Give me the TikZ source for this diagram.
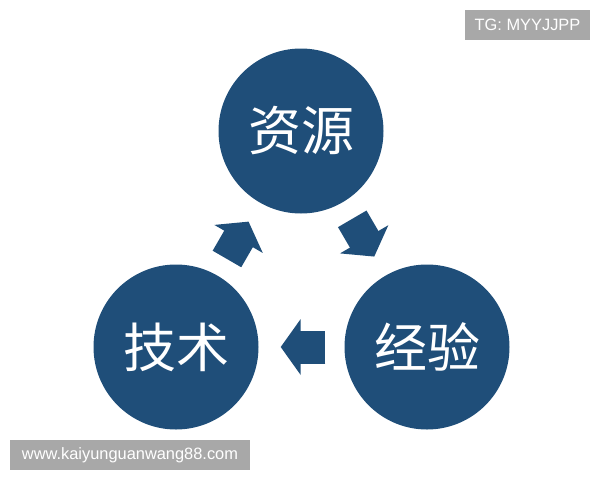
\documentclass[tikz,border=0pt]{standalone}
\usepackage{fontspec}
\setmainfont{Liberation Sans}
\newfontfamily\cjk{Noto Sans CJK SC}
\usetikzlibrary{arrows.meta}
\definecolor{navy}{RGB}{31,78,121}
\definecolor{mark}{RGB}{168,168,168}

\begin{document}
\begin{tikzpicture}[x=1pt,y=-1pt]
\tikzstyle{ball} = [circle,fill=navy,inner sep=0pt,minimum size=165pt,text=white,font=\cjk\fontsize{53}{53}\selectfont]
\tikzstyle{flow} = [draw=navy,line width=33pt,shorten <=19pt,shorten >=22pt,-{Triangle[length=20pt,width=55pt]}]
\tikzstyle{tag} = [fill=mark,text=white,inner sep=0pt,minimum height=30pt,font=\fontsize{16.4}{16.4}\selectfont]
\useasboundingbox (0,0) rectangle (600,480);
\node[ball] (ziyuan) at (301,131) {资源} ;
\node[ball] (jishu) at (176,347) {技术} ;
\node[ball] (jingyan) at (427,347) {经验} ;
\draw [flow] (ziyuan) -- (jingyan) ;
\draw [flow] (jingyan) -- (jishu) ;
\draw [flow] (jishu) -- (ziyuan) ;
\node[tag,minimum width=125pt] (tg) at (527.5,25) {TG: MYYJJPP} ;
\node[tag,minimum width=240pt] (site) at (130,455) {www.kaiyunguanwang88.com} ;
\end{tikzpicture}
\end{document}
